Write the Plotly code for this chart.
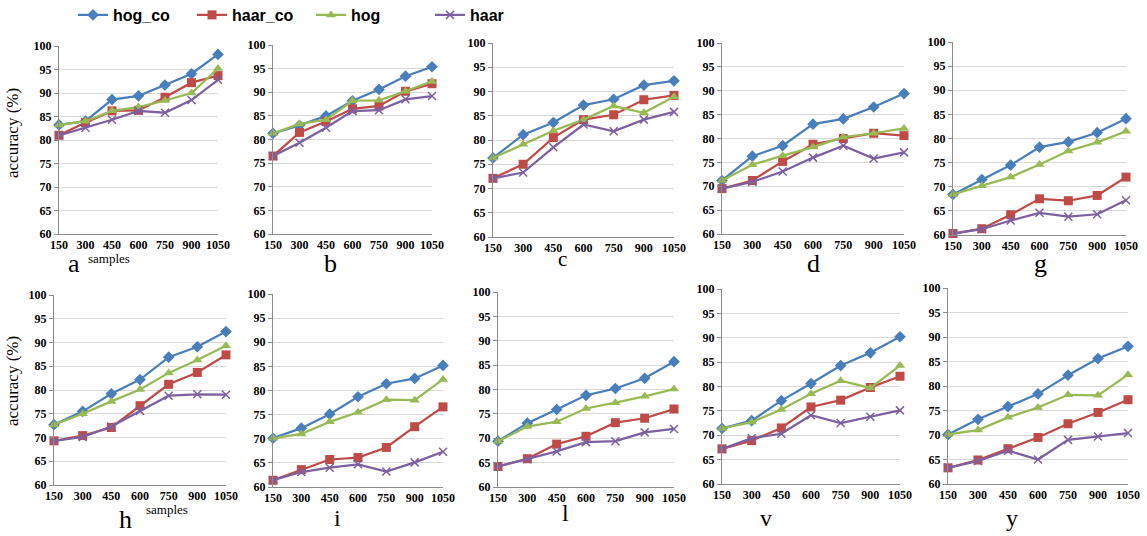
import plotly.graph_objects as go

# ---------------- data ----------------
samples = [150, 300, 450, 600, 750, 900, 1050]
series_names = ["hog_co", "haar_co", "hog", "haar"]
panel_labels = ["a", "b", "c", "d", "g", "h", "i", "l", "v", "y"]

a_hog_co = [83.2, 84.0, 88.6, 89.4, 91.7, 94.1, 98.2]
a_haar_co = [81.0, 83.7, 86.2, 86.3, 89.1, 92.2, 93.7]
a_hog = [83.2, 84.0, 86.2, 87.0, 88.4, 90.0, 95.2]
a_haar = [81.0, 82.6, 84.3, 86.2, 85.8, 88.5, 92.8]

b_hog_co = [81.3, 83.0, 85.0, 88.2, 90.6, 93.4, 95.4]
b_haar_co = [76.5, 81.5, 83.8, 86.5, 87.1, 90.2, 91.8]
b_hog = [81.3, 83.3, 84.2, 88.2, 88.3, 90.2, 92.3]
b_haar = [76.5, 79.3, 82.5, 86.0, 86.2, 88.5, 89.2]

c_hog_co = [76.3, 81.1, 83.6, 87.2, 88.4, 91.3, 92.2]
c_haar_co = [72.1, 75.0, 80.5, 84.2, 85.2, 88.3, 89.2]
c_hog = [76.3, 79.1, 81.9, 84.2, 87.0, 85.6, 88.9]
c_haar = [72.1, 73.3, 78.5, 83.2, 81.8, 84.2, 85.8]

d_hog_co = [71.2, 76.3, 78.5, 83.0, 84.1, 86.6, 89.4]
d_haar_co = [69.5, 71.2, 75.2, 78.8, 80.0, 81.1, 80.6]
d_hog = [71.2, 74.5, 76.4, 78.2, 80.3, 81.1, 82.1]
d_haar = [69.5, 70.9, 73.1, 76.0, 78.5, 75.8, 77.1]

g_hog_co = [68.4, 71.5, 74.5, 78.2, 79.3, 81.2, 84.1]
g_haar_co = [60.3, 61.3, 64.2, 67.5, 67.1, 68.2, 72.0]
g_hog = [68.4, 70.2, 72.0, 74.6, 77.4, 79.2, 81.5]
g_haar = [60.3, 61.2, 63.0, 64.6, 63.8, 64.3, 67.2]

h_hog_co = [72.7, 75.5, 79.2, 82.2, 86.9, 89.1, 92.3]
h_haar_co = [69.3, 70.4, 72.1, 76.7, 81.2, 83.7, 87.4]
h_hog = [72.7, 75.0, 77.6, 80.1, 83.6, 86.3, 89.3]
h_haar = [69.3, 70.1, 72.3, 75.6, 78.8, 79.1, 79.0]

i_hog_co = [70.1, 72.2, 75.1, 78.7, 81.4, 82.5, 85.2]
i_haar_co = [61.4, 63.6, 65.7, 66.1, 68.2, 72.5, 76.6]
i_hog = [70.1, 71.0, 73.5, 75.5, 78.1, 78.0, 82.3]
i_haar = [61.4, 63.1, 64.0, 64.7, 63.2, 65.1, 67.3]

l_hog_co = [69.4, 73.1, 75.9, 78.8, 80.2, 82.3, 85.7]
l_haar_co = [64.2, 65.8, 68.8, 70.4, 73.2, 74.1, 76.0]
l_hog = [69.4, 72.4, 73.4, 76.1, 77.3, 78.6, 80.1]
l_haar = [64.2, 65.7, 67.3, 69.2, 69.4, 71.2, 71.9]

v_hog_co = [71.4, 73.0, 77.1, 80.6, 84.3, 86.9, 90.2]
v_haar_co = [67.2, 68.9, 71.5, 75.8, 77.2, 79.8, 82.1]
v_hog = [71.4, 72.7, 75.3, 78.5, 81.2, 79.7, 84.3]
v_haar = [67.2, 69.4, 70.3, 74.1, 72.5, 73.8, 75.1]

y_hog_co = [70.1, 73.2, 75.8, 78.4, 82.2, 85.6, 88.1]
y_haar_co = [63.3, 64.9, 67.2, 69.5, 72.3, 74.6, 77.2]
y_hog = [70.1, 71.0, 73.6, 75.6, 78.2, 78.1, 82.3]
y_haar = [63.3, 64.7, 66.8, 65.0, 69.0, 69.7, 70.4]

panel_data = {
    "a": [a_hog_co, a_haar_co, a_hog, a_haar],
    "b": [b_hog_co, b_haar_co, b_hog, b_haar],
    "c": [c_hog_co, c_haar_co, c_hog, c_haar],
    "d": [d_hog_co, d_haar_co, d_hog, d_haar],
    "g": [g_hog_co, g_haar_co, g_hog, g_haar],
    "h": [h_hog_co, h_haar_co, h_hog, h_haar],
    "i": [i_hog_co, i_haar_co, i_hog, i_haar],
    "l": [l_hog_co, l_haar_co, l_hog, l_haar],
    "v": [v_hog_co, v_haar_co, v_hog, v_haar],
    "y": [y_hog_co, y_haar_co, y_hog, y_haar],
}

# ---------------- layout / style ----------------
W, H = 1147, 536
# plot boxes in pixels: x0, x1, y0(top), y1(bottom)
boxes = {
    "a": (59, 218, 46, 234),
    "b": (273, 432, 45, 234),
    "c": (493, 674, 43, 237),
    "d": (722, 904, 43, 234),
    "g": (953, 1126, 42, 235),
    "h": (54, 226, 295, 485),
    "i": (273, 443, 294, 487),
    "l": (498, 674, 292, 487),
    "v": (722, 900, 289, 484),
    "y": (948, 1128, 288, 484),
}
# panel letter positions (center px) and sizes
letter_pos = {
    "a": (74, 263, 26), "b": (330, 263, 26), "c": (562, 259, 21),
    "d": (813, 263, 26), "g": (1040, 263, 26), "h": (125, 519, 26),
    "i": (337, 518, 24), "l": (565, 513, 24), "v": (766, 518, 24),
    "y": (1012, 518, 24),
}

colors = ["#4A7EBB", "#BE4B48", "#98B954", "#7D60A0"]
symbols = ["diamond", "square", "triangle-up", "x-thin"]
msizes = [9, 9, 9, 8]

serif = "Liberation Serif"
grid_col = "#D9D9D9"
axis_col = "#8C8C8C"

fig = go.Figure()
layout = dict(
    width=W, height=H,
    margin=dict(l=0, r=0, t=0, b=0, autoexpand=False),
    paper_bgcolor="white", plot_bgcolor="white",
    showlegend=True,
    legend=dict(
        x=73 / W, y=1 - 15 / H, xanchor="left", yanchor="middle",
        orientation="h", bgcolor="rgba(0,0,0,0)",
        font=dict(family="Liberation Sans", size=16, color="black", weight=700),
        itemwidth=30, entrywidth=74, entrywidthmode="pixels",
    ),
)

annotations = []
for k, lab in enumerate(panel_labels):
    sfx = "" if k == 0 else str(k + 1)
    x0, x1, y0, y1 = boxes[lab]
    layout["xaxis" + sfx] = dict(
        domain=[x0 / W, x1 / W], range=[150, 1050], anchor="y" + sfx,
        tickmode="array", tickvals=samples, ticktext=[str(s) for s in samples],
        showgrid=False, zeroline=False, showline=True, linecolor=axis_col, linewidth=1,
        ticks="", ticklabelstandoff=0, automargin=False,
        tickfont=dict(family=serif, size=12, color="black", weight=700),
    )
    layout["yaxis" + sfx] = dict(
        domain=[1 - y1 / H, 1 - y0 / H], range=[60, 100], anchor="x" + sfx,
        tickmode="linear", tick0=60, dtick=5,
        showgrid=True, gridcolor=grid_col, gridwidth=1, zeroline=False,
        showline=True, linecolor=axis_col, linewidth=1, automargin=False,
        ticks="outside", ticklen=4, tickcolor=axis_col, ticklabelstandoff=0,
        tickfont=dict(family=serif, size=12, color="black", weight=700),
    )
    for s, name in enumerate(series_names):
        marker = dict(symbol=symbols[s], size=msizes[s], color=colors[s])
        if symbols[s] == "x-thin":
            marker["line"] = dict(width=1.5, color=colors[s])
        else:
            marker["line"] = dict(width=0)
        fig.add_trace(go.Scatter(
            x=samples, y=panel_data[lab][s], name=name,
            mode="lines+markers", line=dict(color=colors[s], width=2.25),
            marker=marker, cliponaxis=False,
            xaxis="x" + sfx, yaxis="y" + sfx,
            showlegend=(k == 0),
        ))
    lx, ly, lsz = letter_pos[lab]
    annotations.append(dict(
        x=lx / W, y=1 - ly / H, xref="paper", yref="paper", text=lab,
        showarrow=False, xanchor="center", yanchor="middle",
        font=dict(family=serif, size=lsz, color="black"),
    ))

# axis titles
for (tx, ty) in [(13, 133), (12, 381)]:
    annotations.append(dict(
        x=tx / W, y=1 - ty / H, xref="paper", yref="paper", text="accuracy (%)",
        textangle=-90, showarrow=False, xanchor="center", yanchor="middle",
        font=dict(family=serif, size=17, color="black"),
    ))
for (tx, ty) in [(109, 258), (167, 509)]:
    annotations.append(dict(
        x=tx / W, y=1 - ty / H, xref="paper", yref="paper", text="samples",
        showarrow=False, xanchor="center", yanchor="middle",
        font=dict(family=serif, size=13, color="black"),
    ))
layout["annotations"] = annotations

fig.update_layout(**layout)
fig.write_html(
    "out.html",
    config={"displayModeBar": False},
    post_script="document.body.style.margin='0';document.body.style.overflow='hidden';",
)
